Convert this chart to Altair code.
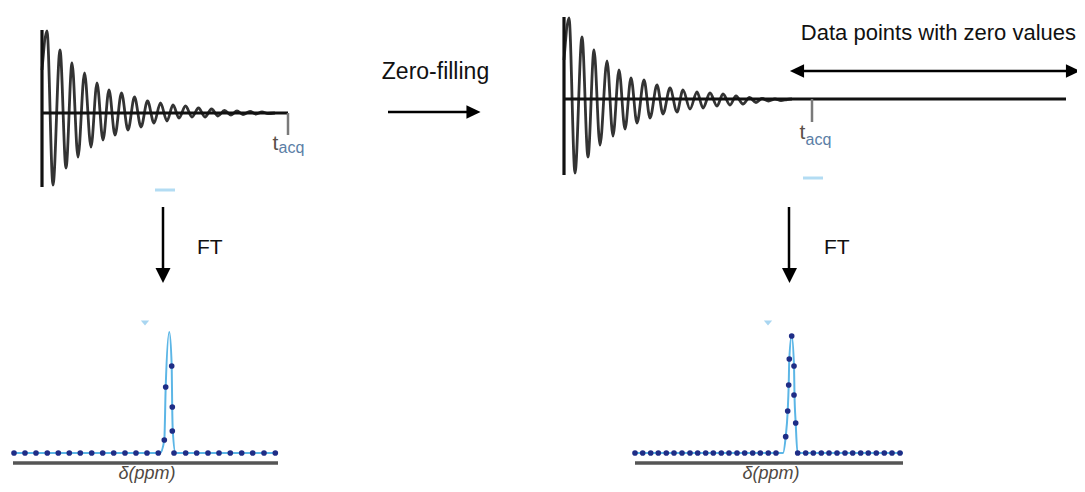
import altair as alt
import pandas as pd

# ---------------- data (picture coordinates, px) ----------------
# FID before zero-filling: successive extrema of the decaying oscillation
fid_left_x = [42, 47, 53, 60, 66, 72, 78, 84.5, 91, 97, 103, 109, 115, 121.5, 128, 134.5, 141,
              147.5, 154, 160.5, 167, 173, 179, 185.5, 192, 198.5, 205, 211.5, 218,
              224.5, 231, 237, 243, 250, 256, 262, 268, 275]
fid_left_y = [70, 31, 185, 50, 168, 63, 157, 73, 147, 83, 140, 90, 135, 93, 130, 97, 127,
              101, 123, 103, 121, 105, 118, 106, 117, 108, 117, 109, 116,
              110.5, 115, 111, 114.5, 111.5, 114, 112, 113.5, 113]

# FID after zero-filling
fid_right_x = [564, 569, 575, 582, 588, 594, 600, 607, 613, 619, 625, 631, 637, 644, 650, 657,
               663, 670, 677, 683, 690, 697, 703, 710, 717, 723, 730, 736, 743,
               749.5, 756, 762, 768.5, 775, 781, 787, 792]
fid_right_y = [60, 18, 173, 37, 157, 50, 145, 61, 136, 70, 129, 78, 123, 80, 118, 85,
               114, 88, 112, 90, 109, 92, 108, 93, 106, 94, 105, 96, 104,
               97.5, 102.5, 98.5, 101, 99, 100.5, 99.5, 99]

# Spectra: fitted line and sampled points
spec_left_line_x = [14, 160, 164.3, 165.7, 169.3, 171.7, 172.2, 172.8, 175.5, 278]
spec_left_line_y = [453, 453, 440, 387, 332, 366, 407, 431, 453, 453]
spec_left_dot_x = [14, 25, 36, 47.3, 58.3, 69.3, 80.3, 91.7, 102.7, 113.7, 125, 136, 147, 158.3,
                   164.3, 165.7, 171.7, 172.3, 172.3,
                   174, 185.7, 196.7, 208, 219, 230.3, 241.7, 252.7, 264, 275.3]
spec_left_dot_y = [453] * 14 + [440, 387, 366, 407, 431] + [453] * 10

spec_right_line_x = [635, 783, 785.7, 787.7, 788.7, 789.3, 791.7, 794, 794.5, 795.7, 797.5, 903]
spec_right_line_y = [453, 453, 436.7, 411, 385, 359, 336, 366, 395, 423, 453, 453]
spec_right_dot_x = [635, 642.7, 650.7, 658.3, 666.3, 674, 682, 690, 697.7, 705.7, 713.3, 721.3,
                    729, 737, 744.7, 752.7, 760.3, 768.3, 776,
                    785.7, 787.7, 788.7, 789.3, 791.7, 794, 794, 795.7,
                    797.7, 805.7, 813.3, 821.3, 829, 837, 845, 852.7, 860.7, 868.3, 876.3,
                    884.3, 892, 900]
spec_right_dot_y = [453] * 19 + [436.7, 411, 385, 359, 336, 366, 395, 423] + [453] * 14

# Line segments: axes, baselines, arrows
axis_x = [42, 42, 564, 564]
axis_x2 = [42, 288, 564, 1066]
axis_y = [30, 113, 17, 99]
axis_y2 = [187, 113, 175, 99]

tick_x = [288, 812]
tick_y = [113, 99]
tick_y2 = [135, 122]

arrow_x = [388, 800, 163, 789]
arrow_x2 = [468, 1068, 163, 789]
arrow_y = [112, 71, 207, 207]
arrow_y2 = [112, 71, 270, 270]

head_right_x = [473.5, 1073]
head_right_y = [112, 71]
head_left_x = [797]
head_left_y = [71]
head_down_x = [163, 789.5]
head_down_y = [275.5, 275.5]

spec_base_x = [13, 635]
spec_base_x2 = [278, 903]
spec_base_y = [463, 463]

dash_x = [155, 803]
dash_x2 = [175, 823]
dash_y = [190, 178]

marker_x = [145, 768]
marker_y = [323, 323]

# Texts
zf_label = ["Zero-filling"]
zf_x = [435.5]
zf_y = [79]
dp_label = ["Data points with zero values"]
dp_x = [1076]
dp_y = [40]
ft_labels = ["FT", "FT"]
ft_x = [197, 824]
ft_y = [254, 254]
t_x = [272.5, 799.5]
t_y = [150, 139]
acq_x = [278.5, 805.5]
acq_y = [153, 145]
ppm_x = [147, 771]
ppm_y = [479, 479]

# ---------------- chart ----------------
XS = alt.Scale(domain=[8, 1077], nice=False, zero=False)
YS = alt.Scale(domain=[8, 484], nice=False, zero=False, reverse=True)


def X(f):
    return alt.X(f, type="quantitative", scale=XS, axis=None)


def Y(f):
    return alt.Y(f, type="quantitative", scale=YS, axis=None)


def df(**kw):
    return pd.DataFrame(kw)


fid_l = alt.Chart(df(x=fid_left_x, y=fid_left_y)).mark_line(
    interpolate="monotone", color="#333333", strokeWidth=2.8).encode(x=X("x"), y=Y("y"))
fid_r = alt.Chart(df(x=fid_right_x, y=fid_right_y)).mark_line(
    interpolate="monotone", color="#333333", strokeWidth=2.8).encode(x=X("x"), y=Y("y"))

axes = alt.Chart(df(x=axis_x, x2=axis_x2, y=axis_y, y2=axis_y2)).mark_rule(
    color="#111111", strokeWidth=3.2).encode(x=X("x"), x2="x2", y=Y("y"), y2="y2")
ticks = alt.Chart(df(x=tick_x, y=tick_y, y2=tick_y2)).mark_rule(
    color="#7a7a7a", strokeWidth=2.5).encode(x=X("x"), y=Y("y"), y2="y2")

arrows = alt.Chart(df(x=arrow_x, x2=arrow_x2, y=arrow_y, y2=arrow_y2)).mark_rule(
    color="#000000", strokeWidth=2.5).encode(x=X("x"), x2="x2", y=Y("y"), y2="y2")
heads_r = alt.Chart(df(x=head_right_x, y=head_right_y)).mark_point(
    shape="M -1 -0.95 L 1 0 L -1 0.95 Z", size=200, filled=True, color="#000000",
    opacity=1, strokeWidth=0).encode(x=X("x"), y=Y("y"))
heads_l = alt.Chart(df(x=head_left_x, y=head_left_y)).mark_point(
    shape="M 1 -0.95 L -1 0 L 1 0.95 Z", size=200, filled=True, color="#000000",
    opacity=1, strokeWidth=0).encode(x=X("x"), y=Y("y"))
heads_d = alt.Chart(df(x=head_down_x, y=head_down_y)).mark_point(
    shape="M -1 -1 L 1 -1 L 0 1 Z", size=225, filled=True, color="#000000",
    opacity=1, strokeWidth=0).encode(x=X("x"), y=Y("y"))

spec_base = alt.Chart(df(x=spec_base_x, x2=spec_base_x2, y=spec_base_y)).mark_rule(
    color="#555555", strokeWidth=3.5).encode(x=X("x"), x2="x2", y=Y("y"))
dashes = alt.Chart(df(x=dash_x, x2=dash_x2, y=dash_y)).mark_rule(
    color="#b3dcf3", strokeWidth=3).encode(x=X("x"), x2="x2", y=Y("y"))
markers = alt.Chart(df(x=marker_x, y=marker_y)).mark_point(
    shape="M -1 -0.6 L 1 -0.6 L 0 0.6 Z", size=70, filled=True, color="#a9d6f1",
    opacity=1, strokeWidth=0).encode(x=X("x"), y=Y("y"))

sl_l = alt.Chart(df(x=spec_left_line_x, y=spec_left_line_y)).mark_line(
    interpolate="monotone", color="#5cb6e6", strokeWidth=2).encode(x=X("x"), y=Y("y"))
sl_r = alt.Chart(df(x=spec_right_line_x, y=spec_right_line_y)).mark_line(
    interpolate="monotone", color="#5cb6e6", strokeWidth=2).encode(x=X("x"), y=Y("y"))
sd_l = alt.Chart(df(x=spec_left_dot_x, y=spec_left_dot_y)).mark_circle(
    size=32, color="#1f2d86", opacity=1).encode(x=X("x"), y=Y("y"))
sd_r = alt.Chart(df(x=spec_right_dot_x, y=spec_right_dot_y)).mark_circle(
    size=32, color="#1f2d86", opacity=1).encode(x=X("x"), y=Y("y"))

txt_zf = alt.Chart(df(t=zf_label, x=zf_x, y=zf_y)).mark_text(
    font="Liberation Sans", fontSize=23, color="#111111", align="center",
    baseline="alphabetic").encode(x=X("x"), y=Y("y"), text="t:N")
txt_dp = alt.Chart(df(t=dp_label, x=dp_x, y=dp_y)).mark_text(
    font="Liberation Sans", fontSize=22, color="#111111", align="right",
    baseline="alphabetic").encode(x=X("x"), y=Y("y"), text="t:N")
txt_ft = alt.Chart(df(t=ft_labels, x=ft_x, y=ft_y)).mark_text(
    font="Liberation Sans", fontSize=21, color="#111111", align="left",
    baseline="alphabetic").encode(x=X("x"), y=Y("y"), text="t:N")
txt_t = alt.Chart(df(t=["t", "t"], x=t_x, y=t_y)).mark_text(
    font="Liberation Sans", fontSize=21, color="#5a5048", align="left",
    baseline="alphabetic").encode(x=X("x"), y=Y("y"), text="t:N")
txt_acq = alt.Chart(df(t=["acq", "acq"], x=acq_x, y=acq_y)).mark_text(
    font="Liberation Sans", fontSize=16, color="#5b7ea6", align="left",
    baseline="alphabetic").encode(x=X("x"), y=Y("y"), text="t:N")
txt_ppm = alt.Chart(df(t=["δ(ppm)", "δ(ppm)"], x=ppm_x, y=ppm_y)).mark_text(
    font="Liberation Sans", fontSize=18, fontStyle="italic", color="#4e4842",
    align="center", baseline="alphabetic").encode(x=X("x"), y=Y("y"), text="t:N")

chart = alt.layer(
    dashes, markers, spec_base, sl_l, sl_r, sd_l, sd_r,
    fid_l, fid_r, axes, ticks, arrows, heads_r, heads_l, heads_d,
    txt_zf, txt_dp, txt_ft, txt_t, txt_acq, txt_ppm,
).properties(
    width=1069, height=476, padding=0, autosize=alt.AutoSizeParams(type="none"),
    background="white",
).configure_view(stroke=None)

chart.save("out.html", embed_options={"renderer": "svg", "actions": False})
